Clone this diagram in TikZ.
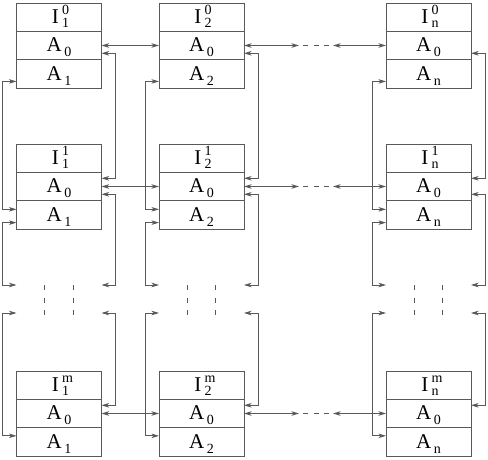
\documentclass[tikz,border=0pt]{standalone}
\usepackage{fontspec}
\setmainfont{Liberation Serif}
\usetikzlibrary{arrows.meta,calc}

% font sizes for the cell labels
\newcommand\bigsz{\fontsize{21}{21}\selectfont}
\newcommand\smallsz{\fontsize{14}{14}\selectfont}
% I with superscript (#1) and subscript (#2)
\newcommand\Ilab[2]{\hspace{3pt}I\hspace{3.5pt}\makebox[0pt][l]{\raisebox{9.3pt}{\smallsz #1}}\raisebox{-4.4pt}{\smallsz #2}}
% A with a lowered index
\newcommand\Alab[1]{A\hspace{2.5pt}\raisebox{-5pt}{\smallsz #1}}

\begin{document}
\begin{tikzpicture}[x=1pt,y=-1pt,line width=0.9pt,
  cell/.style={draw=black!65,rectangle,inner sep=0pt,outer sep=0pt,
    minimum width=85pt,minimum height=28.33pt,
    text height=20.5pt,text depth=7.83pt,font=\bigsz},
  conn/.style={draw=black!65,
    {Stealth[length=7.5pt,width=4.5pt,inset=2pt]}-{Stealth[length=7.5pt,width=4.5pt,inset=2pt]}},
  vbreak/.style={draw=black!65,dash pattern=on 5pt off 7.5pt},
  hbreak/.style={draw=black!65,dash pattern=on 5pt off 5.5pt}]
\useasboundingbox (0,0) rectangle (488,460);

% the grid of processor boxes: columns 1, 2, n and rows 0, 1, m
\foreach \c/\x/\s in {1/16.5/1, 2/159/2, n/386/n} {
  \foreach \r/\y in {0/3, 1/144, m/371} {
    \node[cell,anchor=north west] (I-\c-\r) at (\x,\y) {\Ilab{\r}{\s}};
    \node[cell,anchor=north] (Z-\c-\r) at (I-\c-\r.south) {\Alab{0}};
    \node[cell,anchor=north] (B-\c-\r) at (Z-\c-\r.south) {\Alab{\s}};
  }
}

% horizontal links between the A0 cells of each row
\foreach \r in {0,1,m} {
  \coordinate (ha-\r) at ($(Z-2-\r.east)+(55,0)$);
  \coordinate (hb-\r) at ($(Z-2-\r.east)+(59,0)$);
  \coordinate (hc-\r) at ($(Z-2-\r.east)+(85,0)$);
  \coordinate (hd-\r) at ($(Z-2-\r.east)+(89,0)$);
  \draw[conn] (Z-1-\r.east) -- (Z-2-\r.west);
  \draw[conn] (Z-2-\r.east) -- (ha-\r);
  \draw[hbreak] (hb-\r) -- (hc-\r);
  \draw[conn] (hd-\r) -- (Z-n-\r.west);
}

% vertical links down each column
\foreach \c/\x in {1/16.5, 2/159, n/386} {
  \coordinate (ru-\c) at (\x+85,285);
  \coordinate (rd-\c) at (\x+85,313);
  \coordinate (lu-\c) at (\x,285);
  \coordinate (ld-\c) at (\x,313);
  % right side: A0 cells
  \draw[conn] ([yshift=-7.8pt]Z-\c-0.east) -- ++(14,0) |- ([yshift=8.2pt]Z-\c-1.east);
  \draw[conn] ([yshift=-7.8pt]Z-\c-1.east) -- ++(14,0) |- (ru-\c);
  \draw[conn] (rd-\c) -- ++(14,0) |- ([yshift=8.2pt]Z-\c-m.east);
  % left side: A_i cells
  \draw[conn] ([yshift=-7.6pt]B-\c-0.west) -- ++(-14,0) |- ([yshift=5.5pt]B-\c-1.west);
  \draw[conn] ([yshift=-7.8pt]B-\c-1.west) -- ++(-14,0) |- (lu-\c);
  \draw[conn] (ld-\c) -- ++(-14,0) |- ([yshift=6pt]B-\c-m.west);
  % dashes marking the omitted rows
  \draw[vbreak] (\x+28.3,285) -- (\x+28.3,316);
  \draw[vbreak] (\x+56.7,285) -- (\x+56.7,316);
}
\end{tikzpicture}
\end{document}
